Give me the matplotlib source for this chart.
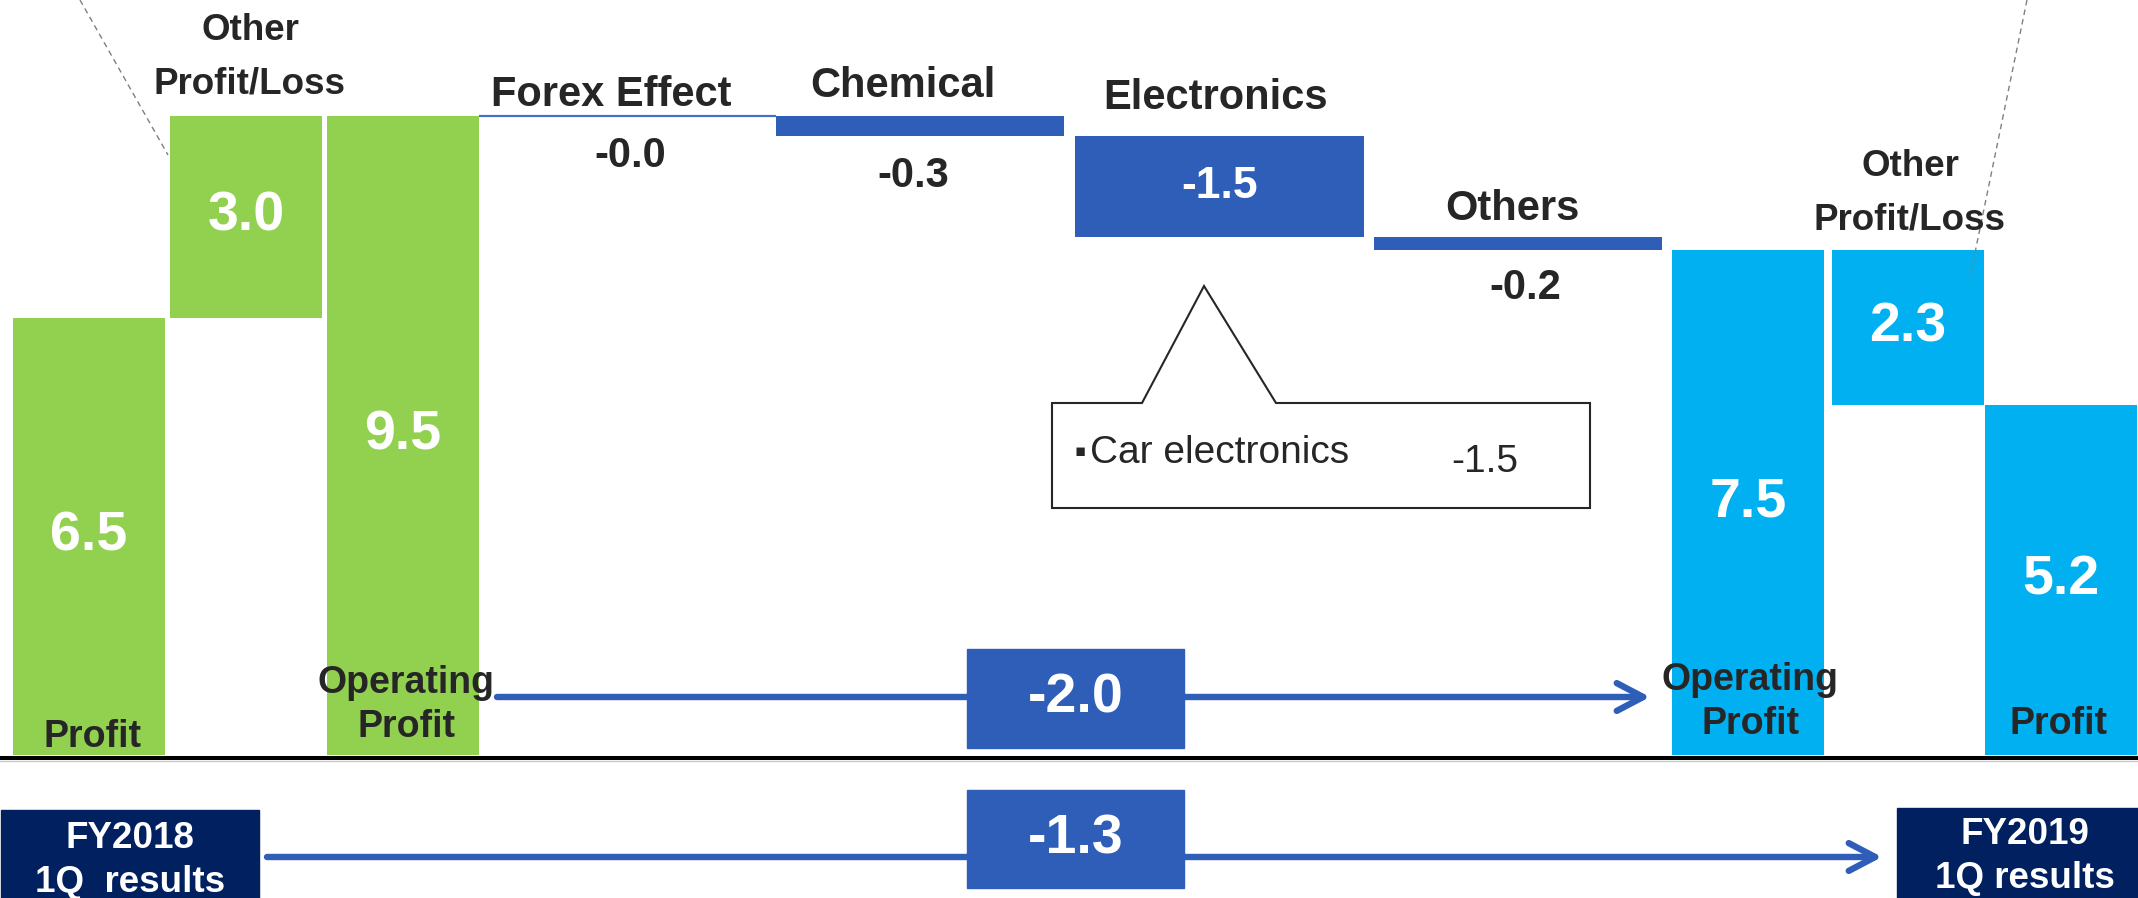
import matplotlib.pyplot as plt
from matplotlib.patches import Rectangle, Polygon, FancyArrowPatch

plt.rcParams['font.family'] = ['Liberation Sans', 'DejaVu Sans']

# operating profit / profit, FY2018 1Q -> FY2019 1Q (100 million yen)
profit_2018 = 6.5
other_pl_2018 = 3.0
op_2018 = 9.5
segment_names = ['Forex Effect', 'Chemical', 'Electronics', 'Others']
segment_changes = [-0.0, -0.3, -1.5, -0.2]
op_2019 = 7.5
other_pl_2019 = 2.3
profit_2019 = 5.2
op_change = -2.0
profit_change = -1.3
car_electronics = -1.5

GREEN = '#92D050'
BLUE = '#2F5EB9'
LINE_BLUE = '#4472C4'
CYAN = '#00B0F0'
NAVY = '#002060'
DARK = '#262626'

# canvas is laid out in pixels, y measured in units of profit
W, H = 2138, 898
PX = 67.3      # pixels per unit
ZERO = 755     # pixel row of zero


def yv(py):
    return (ZERO - py) / PX


fig = plt.figure(figsize=(W / 100, H / 100), dpi=100)
ax = fig.add_axes([0, 0, 1, 1])
ax.set_xlim(0, W)
ax.set_ylim(yv(H), yv(0))
ax.axis('off')

narrow_w = 152
green_left = [13, 170, 327]
seg_left = [479, 776, 1075, 1374]
seg_width = [297, 288, 289, 288]
cyan_left = [1672, 1832, 1985]


def label(x, y, s, dx=0, dy=0, size=30, color=DARK, weight='bold', ha='center', va='baseline', **kw):
    ax.annotate(s, (x, y), xytext=(dx, dy), textcoords='offset pixels', ha=ha, va=va,
                fontsize=size, color=color, fontweight=weight, zorder=6, **kw)


def lines(x, y, rows, dy, step, dx=0, size=27):
    # rows drawn bottom-up, last row at dy above anchor
    for i, s in enumerate(reversed(rows)):
        label(x, y, s, dx=dx, dy=dy + i * step, size=size)


# FY2018 side
g_heights = [profit_2018, other_pl_2018, op_2018]
g_bottoms = [0, profit_2018, 0]
ax.bar(green_left, g_heights, width=narrow_w, bottom=g_bottoms, align='edge', color=GREEN, zorder=2)
for l, h, b in zip(green_left, g_heights, g_bottoms):
    label(l + narrow_w / 2, b + h / 2, f'{h:.1f}', size=40, color='white', va='center')

# segment steps
level = op_2018
for name, chg, l, w, dxn, dyn, dxv, dyv in zip(segment_names, segment_changes, seg_left, seg_width,
                                                 [-16, -17, -4, -6], [10, 19, 27, 17],
                                                 [3, -7, 0, 7], [-51, -51, 0, -49]):
    cx = l + w / 2
    if abs(chg) < 0.05:
        ax.plot([l, l + w], [level, level], color=LINE_BLUE, lw=1.6, zorder=3, solid_capstyle='butt')
    else:
        ax.bar(l, chg, width=w, bottom=level, align='edge', color=BLUE, zorder=2)
    label(cx, level, name, dx=dxn, dy=dyn, size=30)
    if abs(chg) >= 1:
        label(cx, level + chg / 2, f'{chg:.1f}', size=32, color='white', va='center')
    else:
        label(cx, level + chg, f'{chg:.1f}', dx=dxv, dy=dyv, size=30)
    level += chg

# FY2019 side
c_heights = [op_2019, other_pl_2019, profit_2019]
c_bottoms = [0, profit_2019, 0]
ax.bar(cyan_left, c_heights, width=narrow_w, bottom=c_bottoms, align='edge', color=CYAN, zorder=2)
for l, h, b in zip(cyan_left, c_heights, c_bottoms):
    label(l + narrow_w / 2, b + h / 2, f'{h:.1f}', size=40, color='white', va='center')

# category captions
lines(green_left[1] + narrow_w / 2, op_2018, ['Other', 'Profit/Loss'], 22, 54, dx=4, size=26.5)
lines(cyan_left[1] + narrow_w / 2, op_2019, ['Other', 'Profit/Loss'], 21, 53, dx=2, size=26.5)
lines(green_left[0] + narrow_w / 2, 0, ['Profit'], 8, 44, dx=4)
lines(green_left[2] + narrow_w / 2, 0, ['Operating', 'Profit'], 18, 44, dx=3)
lines(cyan_left[0] + narrow_w / 2, 0, ['Operating', 'Profit'], 21, 44, dx=2)
lines(cyan_left[2] + narrow_w / 2, 0, ['Profit'], 21, 44, dx=-3)

# zero line
ax.axhline(yv(758), color='black', lw=2.9, zorder=4)
ax.axhline(yv(761), color='#c8c8c8', lw=1.0, zorder=4)

# leader lines
ax.plot([80, 168], [yv(0), yv(155)], color='#808080', lw=1.0, ls=(0, (4, 3)), zorder=5)
ax.plot([2027, 1970], [yv(0), yv(277)], color='#808080', lw=1.0, ls=(0, (4, 3)), zorder=5)


def bridge(x0, x1, y, box, value):
    arr = FancyArrowPatch((x0, yv(y)), (x1, yv(y)), arrowstyle='->,head_length=19,head_width=10',
                          mutation_scale=1, color=BLUE, lw=4.6, shrinkA=0, shrinkB=0, zorder=3,
                          joinstyle='round', capstyle='round')
    ax.add_patch(arr)
    bx0, by0, bx1, by1 = box
    ax.add_patch(Rectangle((bx0, yv(by1)), bx1 - bx0, (by1 - by0) / PX, color=BLUE, zorder=4))
    label((bx0 + bx1) / 2, yv((by0 + by1) / 2), f'{value:.1f}', size=40, color='white', va='center')


# operating profit change
bridge(green_left[2] + narrow_w + 18, cyan_left[0] - 22, 697, (967, 649, 1184, 748), op_change)

# profit change between the two quarters
ax.add_patch(Rectangle((1, yv(H + 5)), 258, (H + 5 - 810) / PX, color=NAVY, zorder=4))
ax.add_patch(Rectangle((1897, yv(H + 5)), W - 1897, (H + 5 - 808) / PX, color=NAVY, zorder=4))
label(130, yv(848), 'FY2018', size=26.5, color='white')
label(130, yv(892), '1Q  results', size=26.5, color='white')
label(2025, yv(844), 'FY2019', size=26.5, color='white')
label(2025, yv(888), '1Q results', size=26.5, color='white')
bridge(267, 1882, 857, (967, 790, 1184, 888), profit_change)

# callout for electronics
call = [(1052, 403), (1142, 403), (1204, 286), (1276, 403), (1590, 403), (1590, 508), (1052, 508)]
ax.add_patch(Polygon([(x, yv(y)) for x, y in call], closed=True, facecolor='white',
                     edgecolor=DARK, lw=1.5, zorder=5))
label(1074, yv(451), '\u25aa', size=12, ha='left', va='center', weight='normal', family='DejaVu Sans')
label(1090, yv(463), 'Car electronics', size=28, ha='left', weight='normal')
label(1485, yv(472), f'{car_electronics:.1f}', size=28, weight='normal')

fig.savefig('out.png', dpi=100)
